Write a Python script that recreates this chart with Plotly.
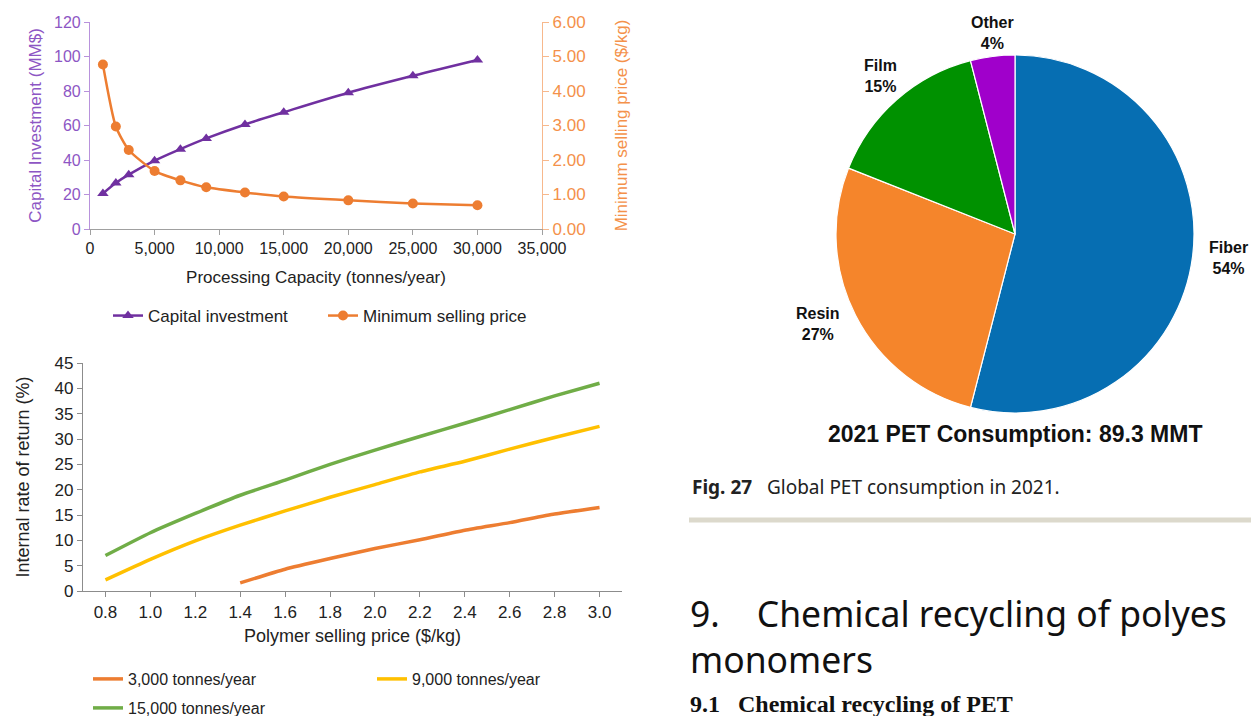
import plotly.graph_objects as go

W, H = 1251, 716

# ---- Top-left: capital investment & minimum selling price vs capacity
capacity = [1000, 2000, 3000, 5000, 7000, 9000, 12000, 15000, 20000, 25000, 30000]
capital_investment = [20.6, 26.7, 31.5, 39.6, 46.3, 52.5, 60.6, 67.7, 79.0, 88.8, 98.0]
min_selling_price = [4.77, 2.97, 2.29, 1.68, 1.41, 1.21, 1.06, 0.94, 0.83, 0.74, 0.69]

# ---- Bottom-left: IRR vs polymer selling price
price_9k_15k = [0.8, 1.0, 1.2, 1.4, 1.6, 1.8, 2.0, 2.2, 2.4, 2.6, 2.8, 3.0]
irr_15000 = [7.0, 11.5, 15.3, 18.9, 21.9, 25.0, 27.8, 30.5, 33.1, 35.8, 38.5, 41.0]
irr_9000 = [2.2, 6.25, 9.9, 13.0, 15.8, 18.5, 21.0, 23.5, 25.6, 28.0, 30.3, 32.5]
price_3k = [1.4, 1.6, 1.8, 2.0, 2.2, 2.4, 2.6, 2.8, 3.0]
irr_3000 = [1.6, 4.3, 6.4, 8.4, 10.1, 12.0, 13.5, 15.2, 16.5]

# ---- Right: PET consumption shares
pet_uses = ["Fiber", "Resin", "Film", "Other"]
pet_share = [54, 27, 15, 4]
pet_colors = ["#066EB2", "#F5852B", "#009100", "#A000CB"]

# label anchor points (window pixels) for the pie slice labels
pie_label_pos = [(1228, 258), (818, 324), (880, 76), (993, 33)]

PURPLE = "#7030A0"
PURPLE_TXT = "#8D56C4"
PURPLE_AX = "#B892DC"
ORANGE = "#ED7D31"
ORANGE_TXT = "#F4914A"
ORANGE_AX = "#F7B88C"
FONT = "Liberation Sans, Arial, sans-serif"


def px_x(x):
    return x / W


def px_y(y):
    return 1 - y / H


fig = go.Figure()

fig.add_trace(go.Scatter(
    x=capacity, y=capital_investment, name="Capital investment",
    mode="lines+markers", line=dict(color=PURPLE, width=2.5, shape="spline"),
    marker=dict(symbol="triangle-up", size=10, color=PURPLE),
    xaxis="x", yaxis="y", legend="legend"))
fig.add_trace(go.Scatter(
    x=capacity, y=min_selling_price, name="Minimum selling price",
    mode="lines+markers", line=dict(color=ORANGE, width=2.5, shape="spline", smoothing=0.6),
    marker=dict(symbol="circle", size=10, color=ORANGE),
    xaxis="x", yaxis="y2", legend="legend"))

fig.add_trace(go.Scatter(
    x=price_3k, y=irr_3000, name="3,000 tonnes/year", mode="lines",
    line=dict(color="#ED7D31", width=3.5, shape="spline", smoothing=0.5),
    xaxis="x3", yaxis="y3", legend="legend2"))
fig.add_trace(go.Scatter(
    x=price_9k_15k, y=irr_9000, name="9,000 tonnes/year", mode="lines",
    line=dict(color="#FFC000", width=3.5, shape="spline", smoothing=0.5),
    xaxis="x3", yaxis="y3", legend="legend2"))
fig.add_trace(go.Scatter(
    x=price_9k_15k, y=irr_15000, name="15,000 tonnes/year", mode="lines",
    line=dict(color="#70AD47", width=3.5, shape="spline", smoothing=0.5),
    xaxis="x3", yaxis="y3", legend="legend3"))

fig.add_trace(go.Pie(
    labels=pet_uses, values=pet_share, sort=False, direction="clockwise",
    rotation=0, marker=dict(colors=pet_colors, line=dict(color="white", width=1.2)),
    textinfo="none", showlegend=False, hoverinfo="label+percent",
    domain=dict(x=[px_x(1015 - 179), px_x(1015 + 179)], y=[px_y(413), px_y(55)])))

# slice labels: name over share
for name, share, (lx, ly) in zip(pet_uses, pet_share, pie_label_pos):
    fig.add_annotation(
        text=f"<b>{name}<br>{share}%</b>", x=px_x(lx), y=px_y(ly),
        xref="paper", yref="paper", showarrow=False, xanchor="center", yanchor="middle",
        font=dict(family=FONT, size=16, color="#111111"))

tick_font = dict(family=FONT, size=16)
title_font = dict(family=FONT, size=17)

fig.update_layout(
    width=W, height=H, margin=dict(l=0, r=0, t=0, b=0, autoexpand=False),
    paper_bgcolor="white", plot_bgcolor="white",
    font=dict(family=FONT, color="#222222"),
    xaxis=dict(
        domain=[px_x(90), px_x(542)], anchor="y", range=[0, 35000],
        tickvals=list(range(0, 35001, 5000)), tickformat=",",
        ticks="outside", ticklen=5, tickcolor="#A0A0A0",
        showline=True, linecolor="#A0A0A0", linewidth=1.2,
        showgrid=False, zeroline=False, tickfont=dict(tick_font, color="#222222"),
        title=dict(text="Processing Capacity (tonnes/year)", font=dict(title_font, color="#222222"), standoff=14)),
    yaxis=dict(
        domain=[px_y(229), px_y(22)], anchor="x", range=[0, 120], dtick=20,
        ticks="outside", ticklen=5, tickcolor=PURPLE_AX,
        showline=True, linecolor=PURPLE_AX, linewidth=1.2,
        showgrid=False, zeroline=False, tickfont=dict(tick_font, color=PURPLE_TXT),
        title=dict(text="Capital Investment (MM$)", font=dict(title_font, color=PURPLE_TXT), standoff=8)),
    yaxis2=dict(
        overlaying="y", side="right", anchor="x", range=[0, 6], dtick=1, tickformat=".2f",
        ticks="outside", ticklen=6, tickcolor=ORANGE_AX,
        showline=True, linecolor=ORANGE_AX, linewidth=1.2,
        showgrid=False, zeroline=False, tickfont=dict(family=FONT, size=17, color=ORANGE_TXT),
        title=dict(text="Minimum selling price ($/kg)", font=dict(title_font, color=ORANGE_TXT), standoff=30)),
    xaxis3=dict(
        domain=[px_x(83), px_x(622)], anchor="y3", range=[0.7, 3.1],
        tickvals=price_9k_15k, tickformat=".1f",
        ticks="outside", ticklen=5, tickcolor="#8C8C8C",
        showline=True, linecolor="#8C8C8C", linewidth=1.2,
        showgrid=False, zeroline=False, tickfont=dict(family=FONT, size=17, color="#222222"),
        title=dict(text="Polymer selling price ($/kg)", font=dict(family=FONT, size=18, color="#222222"), standoff=8)),
    yaxis3=dict(
        domain=[px_y(591), px_y(363)], anchor="x3", range=[0, 45], dtick=5,
        ticks="outside", ticklen=5, tickcolor="#8C8C8C",
        showline=True, linecolor="#8C8C8C", linewidth=1.2,
        showgrid=False, zeroline=False, tickfont=dict(family=FONT, size=17, color="#222222"),
        title=dict(text="Internal rate of return (%)", font=dict(family=FONT, size=18, color="#222222"), standoff=20)),
    legend=dict(
        orientation="h", x=px_x(108), y=px_y(316), xanchor="left", yanchor="middle",
        font=dict(family=FONT, size=17, color="#222222"), entrywidth=170,
        itemwidth=30, bgcolor="rgba(0,0,0,0)"),
    legend2=dict(
        orientation="h", x=px_x(88), y=px_y(679), xanchor="left", yanchor="middle",
        font=dict(family=FONT, size=16, color="#222222"), entrywidth=239,
        itemwidth=30, bgcolor="rgba(0,0,0,0)"),
    legend3=dict(
        orientation="h", x=px_x(88), y=px_y(708), xanchor="left", yanchor="middle",
        font=dict(family=FONT, size=16, color="#222222"),
        itemwidth=30, bgcolor="rgba(0,0,0,0)"),
)

# Pie caption and surrounding document text
fig.add_annotation(
    text="<b>2021 PET Consumption: 89.3 MMT</b>", x=px_x(1015), y=px_y(434),
    xref="paper", yref="paper", showarrow=False, xanchor="center", yanchor="middle",
    font=dict(family=FONT, size=23, color="#111111"))
fig.add_annotation(
    text="<b>Fig. 27</b>   Global PET consumption in 2021.", x=px_x(690), y=px_y(487),
    xref="paper", yref="paper", showarrow=False, xanchor="left", yanchor="middle",
    font=dict(family="Noto Sans, sans-serif", size=19, color="#222222"))
fig.add_shape(
    type="line", xref="paper", yref="paper", x0=px_x(689), x1=1.0,
    y0=px_y(520), y1=px_y(520), line=dict(color="#DCD9CC", width=5))
fig.add_annotation(
    text="9.    Chemical recycling of polyes<br>monomers", x=px_x(688), y=px_y(636),
    xref="paper", yref="paper", showarrow=False, xanchor="left", yanchor="middle",
    align="left", font=dict(family="Noto Sans, sans-serif", size=35.5, color="#111111"))
fig.add_annotation(
    text="<b>9.1   Chemical recycling of PET</b>", x=px_x(688), y=px_y(704),
    xref="paper", yref="paper", showarrow=False, xanchor="left", yanchor="middle",
    font=dict(family="Liberation Serif, serif", size=24, color="#111111"))

fig.write_html("out.html")
